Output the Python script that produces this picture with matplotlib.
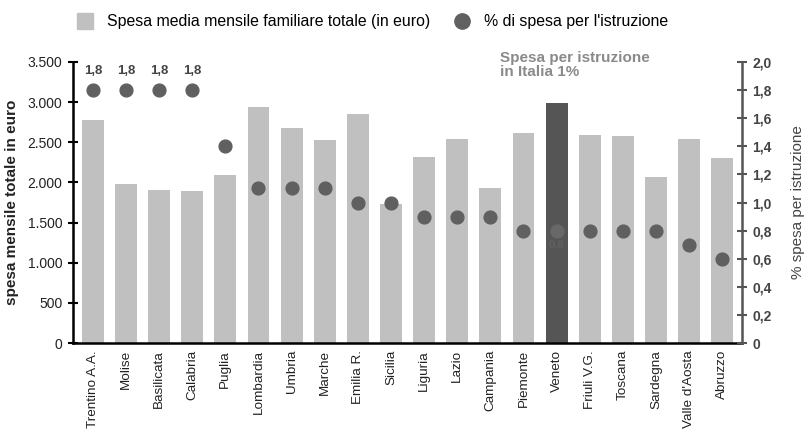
import numpy as np
import matplotlib.pyplot as plt
from matplotlib.lines import Line2D

plt.rcParams['font.family'] = ['Liberation Sans', 'DejaVu Sans']

regioni = ['Trentino A.A.', 'Molise', 'Basilicata', 'Calabria', 'Puglia', 'Lombardia',
           'Umbria', 'Marche', 'Emilia R.', 'Sicilia', 'Liguria', 'Lazio', 'Campania',
           'Piemonte', 'Veneto', 'Friuli V.G.', 'Toscana', 'Sardegna', "Valle d'Aosta", 'Abruzzo']
spesa = [2778, 1977, 1906, 1897, 2096, 2935, 2682, 2525, 2852, 1735, 2313, 2541, 1927,
         2619, 2986, 2587, 2578, 2071, 2545, 2304]
perc = [1.8, 1.8, 1.8, 1.8, 1.4, 1.1, 1.1, 1.1, 1.0, 1.0, 0.9, 0.9, 0.9, 0.8, 0.8, 0.8,
        0.8, 0.8, 0.7, 0.6]
left_ticks = [0, 500, 1000, 1500, 2000, 2500, 3000, 3500]
right_ticks = [0, 0.2, 0.4, 0.6, 0.8, 1.0, 1.2, 1.4, 1.6, 1.8, 2.0]

BAR = '#c0c0c0'
DARK = '#555555'
DOT = '#606060'
hl = regioni.index('Veneto')

fig = plt.figure(figsize=(8.11, 4.3), dpi=100)
ax = fig.add_axes([0.09, 0.202, 0.825, 0.654])
x = np.arange(len(regioni))
colors = [DARK if i == hl else BAR for i in range(len(regioni))]
ax.bar(x, spesa, width=0.66, color=colors, zorder=2)
ax.set_xlim(-0.6, len(regioni) - 0.4)
ax.set_ylim(0, 3500)
ax.set_yticks(left_ticks)
ax.set_yticklabels([f'{v:,}'.replace(',', '.') for v in left_ticks], fontsize=10, color='#222222')
ax.set_xticks(x)
ax.set_xticklabels(regioni, rotation=90, fontsize=9.7, color='#222222')
ax.tick_params(axis='x', length=0, pad=5)
ax.tick_params(axis='y', direction='inout', length=7, width=1.5, pad=4)
for s in ['top', 'right']:
    ax.spines[s].set_visible(False)
ax.spines['left'].set_linewidth(1.8)
ax.spines['bottom'].set_linewidth(1.8)
ax.set_ylabel('spesa mensile totale in euro', fontsize=11, fontweight='bold', color='#222222', labelpad=6)

ax2 = ax.twinx()
ax2.set_ylim(0, 2.0)
ax2.set_yticks(right_ticks)
ax2.set_yticklabels([f'{v:.1f}'.replace('.', ',') if v > 0 else '0' for v in right_ticks],
                    fontsize=10, fontweight='bold', color='#444444')
ax2.tick_params(axis='y', direction='inout', length=7, width=1.5, color='#555555', pad=4)
for s in ['top', 'left', 'bottom']:
    ax2.spines[s].set_visible(False)
ax2.spines['right'].set_linewidth(1.8)
ax2.spines['right'].set_color('#555555')
ax2.set_ylabel('% spesa per istruzione', fontsize=11, color='#444444', labelpad=14)

for i, p in enumerate(perc):
    if i == hl:
        ax2.scatter(i, p, s=85, color='#686868', zorder=3)
        ax2.text(i, p - 0.1, f'{p:.1f}'.replace('.', ','), ha='center', va='center',
                 fontsize=8, color='#606060', fontweight='bold', zorder=3)
    else:
        ax2.scatter(i, p, s=85, color=DOT, zorder=3)
    if p >= 1.8:
        ax2.text(i, p + 0.09, f'{p:.1f}'.replace('.', ','), ha='center', va='bottom',
                 fontsize=9.5, fontweight='bold', color='#444444')

ax2.text(12.3, 2.08, 'Spesa per istruzione\nin Italia 1%', ha='left', va='top',
         fontsize=11, fontweight='bold', color='#8a8a8a', linespacing=1.05)

handles = [Line2D([], [], marker='s', linestyle='none', markersize=12, color=BAR),
           Line2D([], [], marker='o', linestyle='none', markersize=11, color=DOT)]
fig.legend(handles, ['Spesa media mensile familiare totale (in euro)', "% di spesa per l'istruzione"],
           loc='upper center', bbox_to_anchor=(0.455, 1.0), ncol=2, frameon=False,
           fontsize=11.4, handletextpad=0.4, columnspacing=1.0)

fig.savefig('out.png', dpi=100)
